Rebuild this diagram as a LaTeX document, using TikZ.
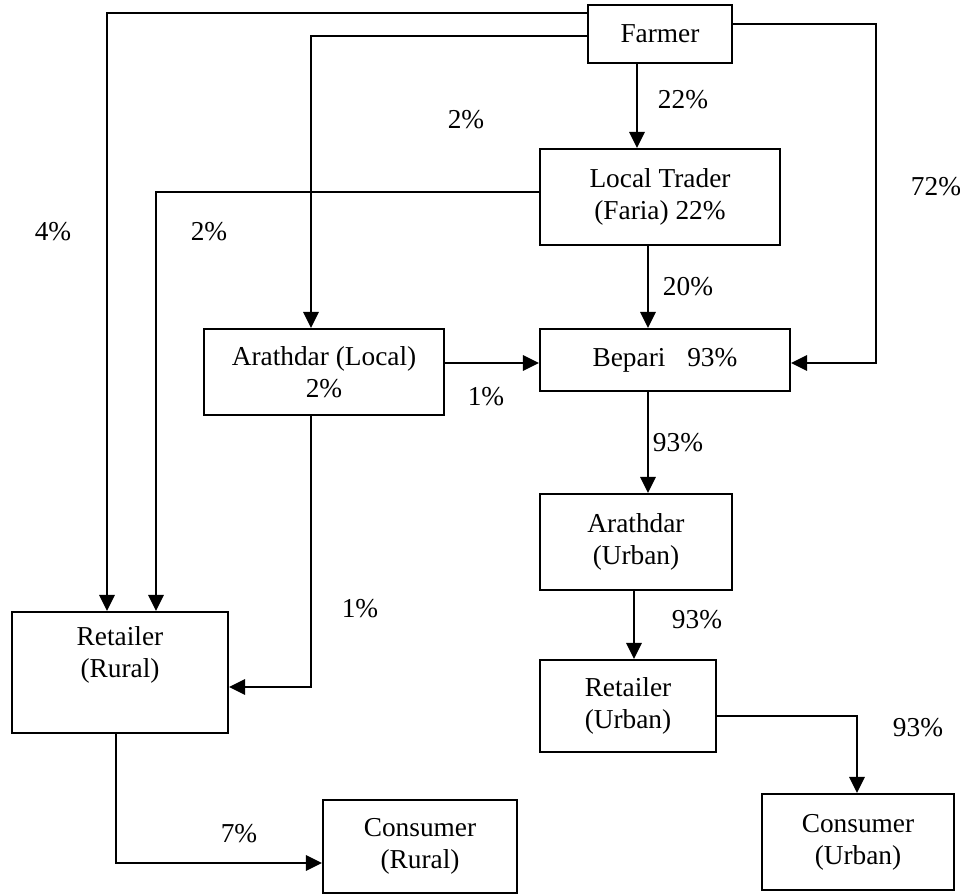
\documentclass[tikz,border=0pt]{standalone}
\usepackage{fontspec}
\setmainfont{Liberation Serif}
\usetikzlibrary{arrows.meta}
\begin{document}
\begin{tikzpicture}[x=0.75pt,y=-0.75pt,
  box/.style={draw, line width=1.6pt, font=\fontsize{20.5}{24}\selectfont, align=center, inner sep=0pt},
  lbl/.style={font=\fontsize{20.5}{24}\selectfont, inner sep=0pt},
  arr/.style={line width=1.6pt, -{Triangle[length=12pt,width=11.5pt]}}]
\useasboundingbox (0,0) rectangle (960,894);

\node[box, minimum width=108pt, minimum height=43.5pt] (farmer) at (660,34) {Farmer};
\node[box, minimum width=180pt, minimum height=72pt] (lt) at (660,197) {Local Trader\\(Faria) 22\%};
\node[box, minimum width=180pt, minimum height=64.5pt] (al) at (324,372) {Arathdar (Local)\\2\%};
\node[box, minimum width=187.5pt, minimum height=46.5pt] (bep) at (665,360) {Bepari\hspace{0.8em}93\%};
\node[box, minimum width=144pt, minimum height=72pt] (au) at (636,542) {Arathdar\\(Urban)};
\node[box, minimum width=132pt, minimum height=69pt] (ru) at (628,706) {Retailer\\(Urban)};
\node[box, minimum width=162pt, minimum height=90.75pt] (rr) at (120,672.5) {};
\node[lbl, align=center] (rrt) at (120,655) {Retailer\\(Rural)};
\node[box, minimum width=145.5pt, minimum height=69.75pt] (cr) at (420,846.5) {Consumer\\(Rural)};
\node[box, minimum width=144pt, minimum height=72pt] (cu) at (858,842) {Consumer\\(Urban)};

\coordinate (p4) at (107,13);
\coordinate (p2a) at (311,36);
\coordinate (p72) at (876,24);
\coordinate (p72b) at (876,363);
\coordinate (p22) at (637,0);
\coordinate (p2b) at (156,192);
\coordinate (p20) at (648,0);
\coordinate (p1a) at (0,363);
\coordinate (p1b) at (311,687);
\coordinate (p93a) at (648,0);
\coordinate (p93b) at (634,0);
\coordinate (p93c) at (857,716);
\coordinate (p7) at (116,863);

\draw[arr] (farmer.west |- p4) -| (rr.north -| p4);
\draw[arr] (farmer.west |- p2a) -| (al.north -| p2a);
\draw[arr] (farmer.south -| p22) -- (lt.north -| p22);
\draw[arr] (farmer.east |- p72) -| (p72b) -- (bep.east |- p72b);
\draw[arr] (lt.west |- p2b) -| (rr.north -| p2b);
\draw[arr] (lt.south -| p20) -- (bep.north -| p20);
\draw[arr] (al.east |- p1a) -- (bep.west |- p1a);
\draw[arr] (al.south -| p1b) |- (rr.east |- p1b);
\draw[arr] (bep.south -| p93a) -- (au.north -| p93a);
\draw[arr] (au.south -| p93b) -- (ru.north -| p93b);
\draw[arr] (ru.east |- p93c) -| (cu.north -| p93c);
\draw[arr] (rr.south -| p7) |- (cr.west |- p7);

\node[lbl] (l4) at (53,232) {4\%};
\node[lbl] (l2b) at (209,232) {2\%};
\node[lbl] (l2a) at (466,120) {2\%};
\node[lbl] (l22) at (683,100) {22\%};
\node[lbl] (l72) at (936,187) {72\%};
\node[lbl] (l20) at (688,287) {20\%};
\node[lbl] (l1a) at (486,397) {1\%};
\node[lbl] (l93a) at (678,443) {93\%};
\node[lbl] (l93b) at (697,620) {93\%};
\node[lbl] (l93c) at (918,728) {93\%};
\node[lbl] (l1b) at (360,609) {1\%};
\node[lbl] (l7) at (239,834) {7\%};
\end{tikzpicture}
\end{document}
